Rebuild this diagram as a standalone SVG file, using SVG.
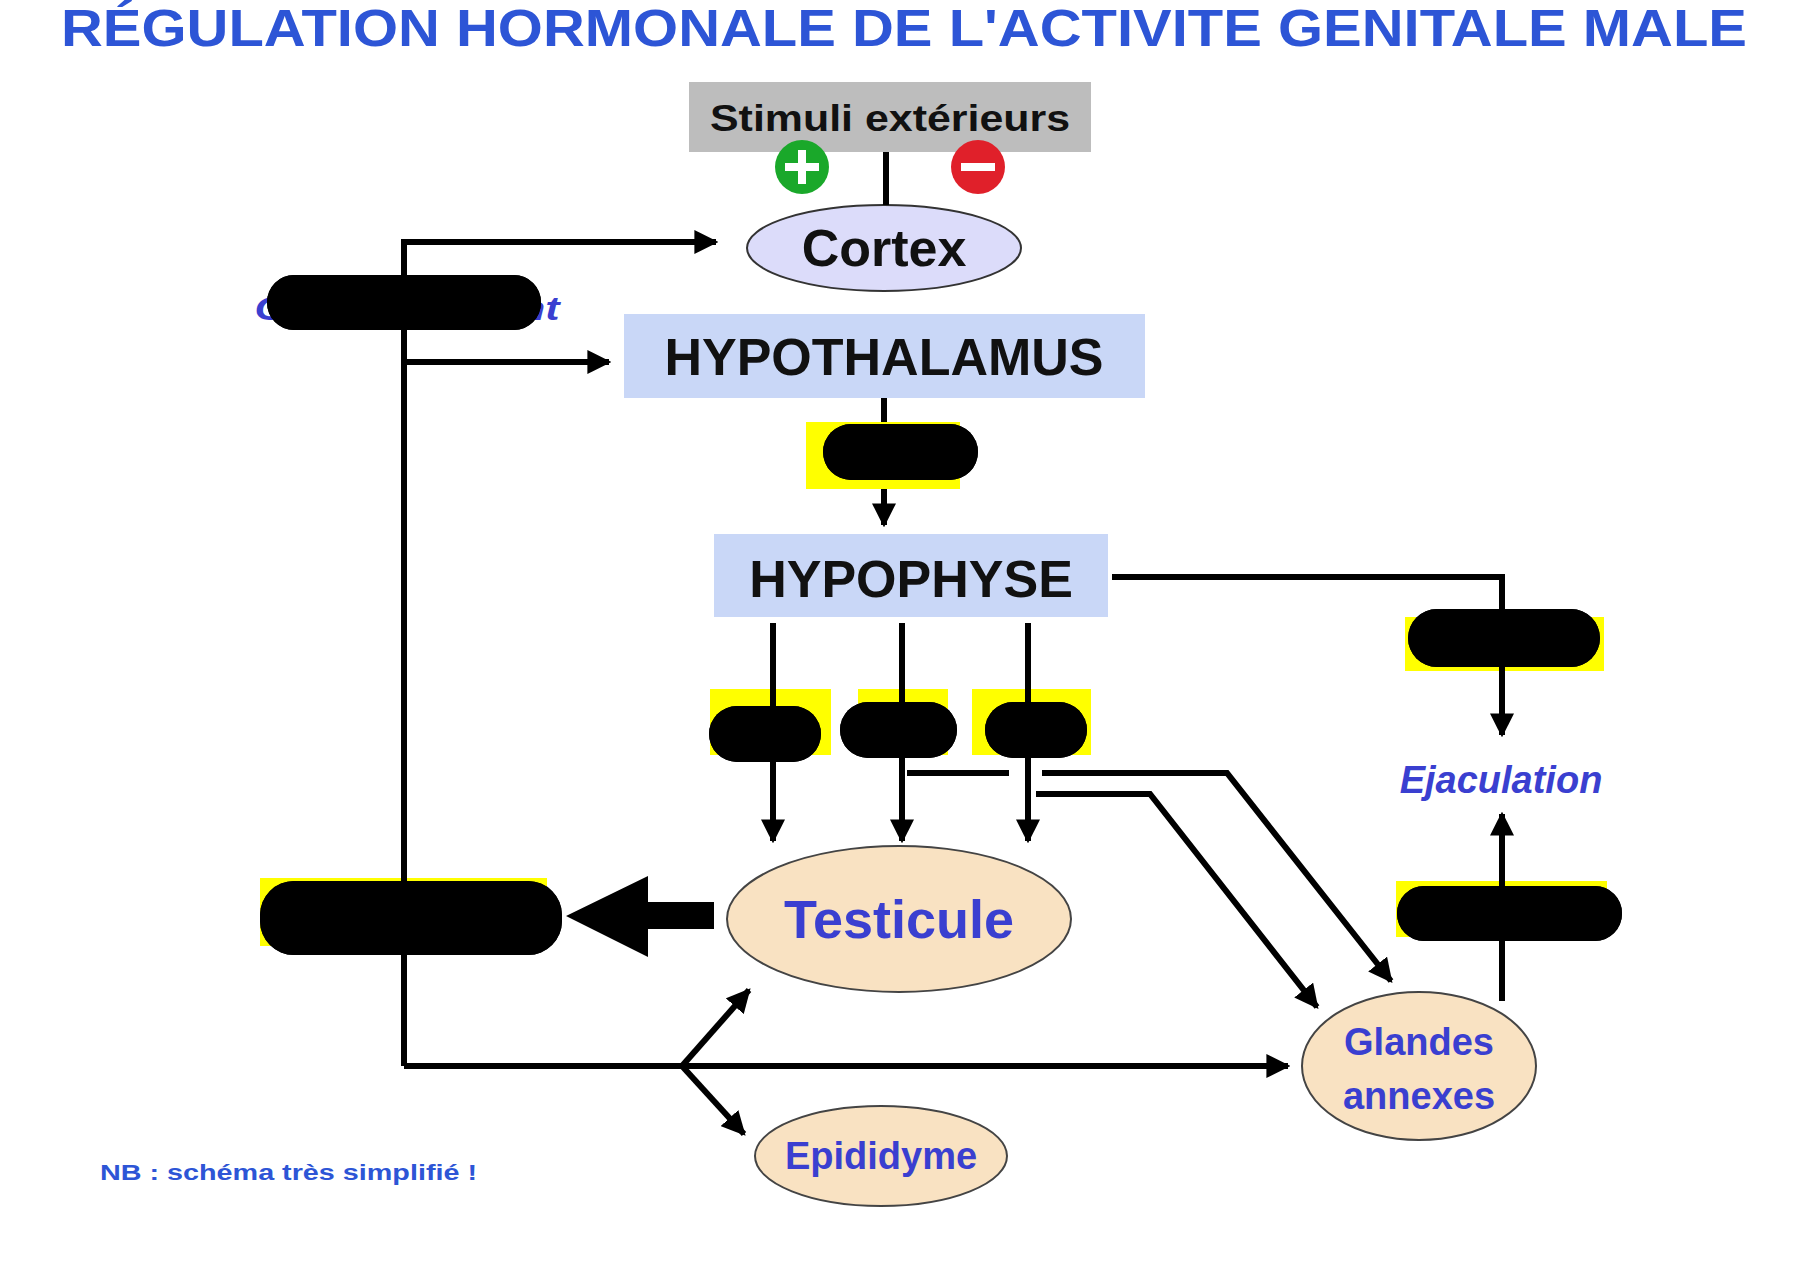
<svg xmlns="http://www.w3.org/2000/svg" width="1815" height="1268" viewBox="0 0 1815 1268">
<defs>
<marker id="ah" viewBox="0 0 10 10" refX="9" refY="5" markerWidth="4" markerHeight="4" orient="auto" markerUnits="strokeWidth"><path d="M0,0 L10,5 L0,10 z" fill="#000"/></marker>
<style>
.c{fill:none;stroke:#000;stroke-width:6}
.t{font-family:"Liberation Sans",Arial,sans-serif;font-weight:bold;text-anchor:middle}
.bl{fill:#3a3fd0}
.y{fill:#ffff00}
.k{fill:#000}
</style>
</defs>
<rect width="1815" height="1268" fill="#fff"/>
<text x="904" y="46" class="t" font-size="52" fill="#2d55d6" textLength="1686" lengthAdjust="spacingAndGlyphs">RÉGULATION HORMONALE DE L'ACTIVITE GENITALE MALE</text>
<g id="stimuli"><rect x="689" y="82" width="402" height="70" fill="#bdbdbd"/><text x="890" y="131" class="t" font-size="36" fill="#111" textLength="360" lengthAdjust="spacingAndGlyphs">Stimuli extérieurs</text>
<circle cx="802" cy="167" r="27" fill="#1aa82a"/><path d="M802,150v34M785,167h34" stroke="#fff" stroke-width="8"/>
<circle cx="978" cy="167" r="27" fill="#e0202a"/><path d="M961,167h34" stroke="#fff" stroke-width="8"/></g>
<g id="cortex"><ellipse cx="884" cy="248" rx="137" ry="43" fill="#dcdcfa" stroke="#333" stroke-width="2"/><text x="884" y="266" class="t" font-size="52" fill="#111">Cortex</text></g>
<g id="comportement"><text x="407" y="320" class="t" font-size="34" font-style="italic" fill="#3a3fd0" textLength="305" lengthAdjust="spacingAndGlyphs">Comportement</text><rect x="267" y="275" width="274" height="55" rx="27" class="k"/></g>
<g id="hypothalamus"><rect x="624" y="314" width="521" height="84" fill="#c9d7f7"/><text x="884" y="375" class="t" font-size="52" fill="#111">HYPOTHALAMUS</text></g>
<g id="gnrh"><rect x="806" y="422" width="154" height="67" class="y"/><rect x="823" y="424" width="155" height="56" rx="28" class="k"/></g>
<g id="hypophyse"><rect x="714" y="534" width="394" height="83" fill="#c9d7f7"/><text x="911" y="597" class="t" font-size="52" fill="#111">HYPOPHYSE</text></g>
<g id="h1"><rect x="710" y="689" width="121" height="66" class="y"/><rect x="709" y="706" width="112" height="56" rx="28" class="k"/></g>
<g id="h2"><rect x="858" y="689" width="90" height="66" class="y"/><rect x="840" y="702" width="117" height="56" rx="28" class="k"/></g>
<g id="h3"><rect x="972" y="689" width="119" height="66" class="y"/><rect x="985" y="702" width="102" height="56" rx="28" class="k"/></g>
<g id="h4"><rect x="1405" y="617" width="199" height="54" class="y"/><rect x="1408" y="609" width="192" height="58" rx="29" class="k"/></g>
<g id="ejaculation"><text x="1501" y="793" class="t" font-size="38" font-style="italic" fill="#3a3fd0">Ejaculation</text></g>
<g id="h5"><rect x="1396" y="881" width="211" height="56" class="y"/><rect x="1397" y="886" width="225" height="55" rx="27" class="k"/></g>
<g id="testosterone"><rect x="260" y="878" width="287" height="68" class="y"/><rect x="260" y="881" width="302" height="74" rx="34" class="k"/></g>
<g id="testicule"><ellipse cx="899" cy="919" rx="172" ry="73" fill="#f9e2c2" stroke="#444" stroke-width="2"/><text x="899" y="938" class="t bl" font-size="54">Testicule</text></g>
<g id="glandes"><ellipse cx="1419" cy="1066" rx="117" ry="74" fill="#f9e2c2" stroke="#444" stroke-width="2"/><text x="1419" y="1055" class="t bl" font-size="38">Glandes</text><text x="1419" y="1109" class="t bl" font-size="38">annexes</text></g>
<g id="epididyme"><ellipse cx="881" cy="1156" rx="126" ry="50" fill="#f9e2c2" stroke="#444" stroke-width="2"/><text x="881" y="1169" class="t bl" font-size="38">Epididyme</text></g>
<g id="nb"><text x="100" y="1180" font-family="Liberation Sans,Arial,sans-serif" font-weight="bold" font-size="22" fill="#2d55d6" textLength="377" lengthAdjust="spacingAndGlyphs">NB : schéma très simplifié !</text></g>
<g id="connectors">
<path class="c" d="M886,152V205"/>
<path class="c" d="M884,398V422M884,489V525" marker-end="url(#ah)"/>
<path class="c" d="M404,1066V242H716" marker-end="url(#ah)"/>
<path class="c" d="M407,362H609" marker-end="url(#ah)"/>
<path class="c" d="M404,1066H1288" marker-end="url(#ah)"/>
<path class="c" d="M682,1066L749,990" marker-end="url(#ah)"/>
<path class="c" d="M682,1066L744,1134" marker-end="url(#ah)"/>
<path class="c" d="M773,623V841" marker-end="url(#ah)"/>
<path class="c" d="M902,623V841" marker-end="url(#ah)"/>
<path class="c" d="M1028,623V841" marker-end="url(#ah)"/>
<path class="c" d="M907,773H1009"/>
<path class="c" d="M1042,773H1227L1391,981" marker-end="url(#ah)"/>
<path class="c" d="M1036,794H1150L1317,1007" marker-end="url(#ah)"/>
<path class="c" d="M1112,577H1502V735" marker-end="url(#ah)"/>
<path class="c" d="M1502,1001V814" marker-end="url(#ah)"/>
<path d="M714,902H648V876L566,916L648,957V929H714Z" fill="#000"/>
</g>
<g id="overlays"><rect x="267" y="275" width="274" height="55" rx="27" class="k"/><rect x="823" y="424" width="155" height="56" rx="28" class="k"/><rect x="709" y="706" width="112" height="56" rx="28" class="k"/><rect x="840" y="702" width="117" height="56" rx="28" class="k"/><rect x="985" y="702" width="102" height="56" rx="28" class="k"/><rect x="1408" y="609" width="192" height="58" rx="29" class="k"/><rect x="1397" y="886" width="225" height="55" rx="27" class="k"/><rect x="260" y="881" width="302" height="74" rx="34" class="k"/></g>
</svg>
